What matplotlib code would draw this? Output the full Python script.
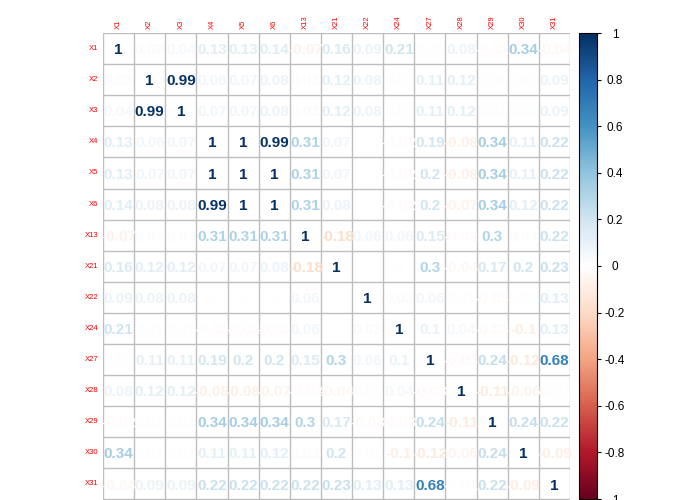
import numpy as np
import matplotlib
matplotlib.use('Agg')
import matplotlib.pyplot as plt
from matplotlib.colors import LinearSegmentedColormap, Normalize
from matplotlib.colorbar import ColorbarBase

labels = ['X1', 'X2', 'X3', 'X4', 'X5', 'X6', 'X13', 'X21', 'X22', 'X24',
          'X27', 'X28', 'X29', 'X30', 'X31']

r_X1  = [1, 0.03, 0.04, 0.13, 0.13, 0.14, -0.07, 0.16, 0.09, 0.21, 0.01, 0.08, -0.02, 0.34, -0.04]
r_X2  = [0.03, 1, 0.99, 0.06, 0.07, 0.08, 0.03, 0.12, 0.08, 0.01, 0.11, 0.12, 0.01, 0.01, 0.09]
r_X3  = [0.04, 0.99, 1, 0.07, 0.07, 0.08, 0.03, 0.12, 0.08, 0.01, 0.11, 0.12, 0.01, 0.01, 0.09]
r_X4  = [0.13, 0.06, 0.07, 1, 1, 0.99, 0.31, 0.07, 0, -0.02, 0.19, -0.08, 0.34, 0.11, 0.22]
r_X5  = [0.13, 0.07, 0.07, 1, 1, 1, 0.31, 0.07, 0, -0.02, 0.2, -0.08, 0.34, 0.11, 0.22]
r_X6  = [0.14, 0.08, 0.08, 0.99, 1, 1, 0.31, 0.08, 0, -0.02, 0.2, -0.07, 0.34, 0.12, 0.22]
r_X13 = [-0.07, 0.03, 0.03, 0.31, 0.31, 0.31, 1, -0.18, 0.06, 0.06, 0.15, -0.02, 0.3, 0.03, 0.22]
r_X21 = [0.16, 0.12, 0.12, 0.07, 0.07, 0.08, -0.18, 1, 0, 0, 0.3, -0.04, 0.17, 0.2, 0.23]
r_X22 = [0.09, 0.08, 0.08, 0, 0, 0, 0.06, 0, 1, 0.03, 0.06, 0.01, -0.03, 0.01, 0.13]
r_X24 = [0.21, 0.01, 0.01, -0.02, -0.02, -0.02, 0.06, 0, 0.03, 1, 0.1, 0.04, -0.03, -0.1, 0.13]
r_X27 = [0.01, 0.11, 0.11, 0.19, 0.2, 0.2, 0.15, 0.3, 0.06, 0.1, 1, -0.03, 0.24, -0.12, 0.68]
r_X28 = [0.08, 0.12, 0.12, -0.08, -0.08, -0.07, -0.02, -0.04, 0.01, 0.04, -0.03, 1, -0.11, -0.06, -0.01]
r_X29 = [-0.02, 0.01, 0.01, 0.34, 0.34, 0.34, 0.3, 0.17, -0.03, -0.03, 0.24, -0.11, 1, 0.24, 0.22]
r_X30 = [0.34, 0.01, 0.01, 0.11, 0.11, 0.12, 0.03, 0.2, 0.01, -0.1, -0.12, -0.06, 0.24, 1, -0.09]
r_X31 = [-0.04, 0.09, 0.09, 0.22, 0.22, 0.22, 0.22, 0.23, 0.13, 0.13, 0.68, -0.01, 0.22, -0.09, 1]

corr = np.array([r_X1, r_X2, r_X3, r_X4, r_X5, r_X6, r_X13, r_X21, r_X22, r_X24,
                 r_X27, r_X28, r_X29, r_X30, r_X31])

# corrplot's RdBu palette
cmap = LinearSegmentedColormap.from_list('corr', ["#67001F", "#B2182B", "#D6604D", "#F4A582", "#FDDBC7",
                                                  "#FFFFFF", "#D1E5F0", "#92C5DE", "#4393C3", "#2166AC", "#053061"])
norm = Normalize(-1, 1)

plt.rcParams['font.family'] = ['Liberation Sans', 'DejaVu Sans']

fig = plt.figure(figsize=(7, 5), dpi=100)
n = len(labels)
ax = fig.add_axes([103/700, 1 - 499.5/500, 467/700, 466.5/500])
ax.set_xlim(0, n)
ax.set_ylim(n, 0)
for k in range(n + 1):
    ax.axhline(k, color='#BEBEBE', lw=1)
    ax.axvline(k, color='#BEBEBE', lw=1)

def fmt(v):
    s = '%.2f' % v
    s = s.rstrip('0').rstrip('.')
    if s in ('-0', ''):
        s = '0'
    return s

for i in range(n):
    for j in range(n):
        v = corr[i, j]
        ax.text(j + 0.5, i + 0.55, fmt(v), ha='center', va='center', fontsize=11,
                fontweight='bold', color=cmap(norm(v)))

ax.set_xticks([])
ax.set_yticks([])
for s in ax.spines.values():
    s.set_visible(False)

for k, lab in enumerate(labels):
    ax.text(k + 0.5, -0.12, lab, rotation=90, ha='center', va='bottom', color='red', fontsize=5.5)
    ax.text(-0.15, k + 0.5, lab, ha='right', va='center', color='red', fontsize=5.5)

cax = fig.add_axes([579/700, 1 - 499/500, 18/700, 466/500])
cb = ColorbarBase(cax, cmap=cmap, norm=norm, orientation='vertical')
ticks = np.round(np.arange(-1, 1.01, 0.2), 1)
cb.set_ticks(ticks)
cb.set_ticklabels([fmt(t) for t in ticks])
cb.outline.set_linewidth(0.8)
cax.tick_params(axis='y', length=3, width=0.8, pad=10, labelsize=8.5)
for t in cax.get_yticklabels():
    t.set_ha('center')

fig.savefig('out.png', dpi=100)
